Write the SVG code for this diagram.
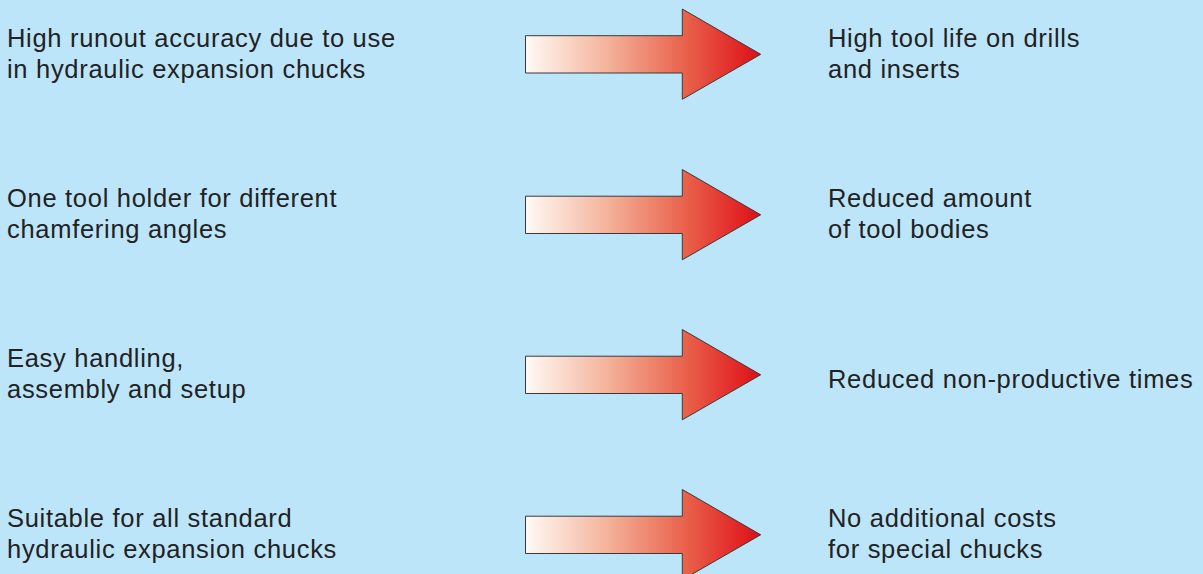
<svg xmlns="http://www.w3.org/2000/svg" width="1203" height="574" viewBox="0 0 1203 574">
<defs>
<linearGradient id="g" x1="0" y1="0" x2="1" y2="0" gradientUnits="objectBoundingBox">
<stop offset="0" stop-color="#fffaf6"/>
<stop offset="0.35" stop-color="#f4b29a"/>
<stop offset="0.68" stop-color="#e9614b"/>
<stop offset="1" stop-color="#de0e16"/>
</linearGradient>
<path id="arr" d="M525.5,35.7 H682.3 V9 L760.7,54.3 L682.3,99.3 V73 H525.5 Z"/>
</defs>
<style>
text{font-family:"Liberation Sans",Arial,sans-serif;font-size:25.5px;letter-spacing:0.7px;fill:#222}
.a{fill:url(#g);stroke:#3a3a3a;stroke-width:1}
</style>
<rect width="1203" height="574" fill="#bde5fa"/>
<g id="connectors">
<use href="#arr" class="a"/>
<use href="#arr" class="a" transform="translate(0,160.5)"/>
<use href="#arr" class="a" transform="translate(0,320.5)"/>
<use href="#arr" class="a" transform="translate(0,480.5)"/>
</g>
<g id="l1"><text x="7" y="46.7">High runout accuracy due to use</text><text x="7" y="78.3">in hydraulic expansion chucks</text></g>
<g id="l2"><text x="7" y="206.7">One tool holder for different</text><text x="7" y="238.3">chamfering angles</text></g>
<g id="l3"><text x="7" y="366.7">Easy handling,</text><text x="7" y="398.3">assembly and setup</text></g>
<g id="l4"><text x="7" y="526.7">Suitable for all standard</text><text x="7" y="558.3">hydraulic expansion chucks</text></g>
<g id="r1"><text x="828" y="46.7">High tool life on drills</text><text x="828" y="78.3">and inserts</text></g>
<g id="r2"><text x="828" y="206.7">Reduced amount</text><text x="828" y="238.3">of tool bodies</text></g>
<g id="r3"><text x="828" y="388.3">Reduced non-productive times</text></g>
<g id="r4"><text x="828" y="526.7">No additional costs</text><text x="828" y="558.3">for special chucks</text></g>
</svg>
